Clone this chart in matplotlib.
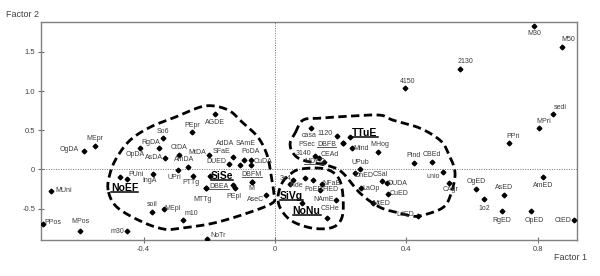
import numpy as np
import matplotlib
matplotlib.use("Agg")
import matplotlib.pyplot as plt
from matplotlib.lines import Line2D
from matplotlib.transforms import IdentityTransform

plt.rcParams['font.family'] = ['Liberation Sans', 'DejaVu Sans']

# point scores on the first two factors ('' = unlabelled point)
names = ['OgDA', 'MEpr', 'MUni', 'PPos', 'MPos', 'm30', 'soil', 'MEpl', 'm10', '',
         'PUni', 'IngA', 'RgDA', 'OpDA', 'AsDA', 'So6', 'CtDA', 'AmDA', 'UPri', 'PTTg',
         'MtDA', 'PEpr', 'AGDE', 'DUED', 'SFaE', 'AdDA', 'SAmE', 'PoDA', 'CuDA', '',
         'DBEA', 'MTTg', '', 'PEpl', 'DBFM', 'M', 'AseC', 'NoTr', '3e4', 'Inde',
         '', 'PoED', 'NFaE', 'FIED', 'NAmE', '', 'CSHe', 'casa', '1120', '',
         'DBFB', 'PSec', '3140', 'CEAd', 'MDED', 'Mind', 'MHog', 'UPub', 'DnED', 'CSal',
         'DUDA', 'CuED', 'LaOp', 'MtED', 'LdED', 'Pind', 'CBEd', 'unio', 'CAgr', 'OgED',
         '1o2', 'AsED', 'RgED', 'OpED', 'AmED', 'CtED', 'PPri', 'MPri', 'sedi', 'M50',
         'M30', '2130', '4150']
fx = [-0.580, -0.548, -0.681, -0.706, -0.593, -0.452, -0.375, -0.338, -0.279, -0.471,
      -0.451, -0.370, -0.353, -0.411, -0.334, -0.341, -0.292, -0.264, -0.295, -0.249,
      -0.201, -0.253, -0.183, -0.139, -0.127, -0.106, -0.093, -0.074, -0.074, -0.198,
      -0.210, -0.210, -0.129, -0.122, -0.071, -0.071, -0.027, -0.206, 0.056, 0.046,
      0.091, 0.117, 0.142, 0.137, 0.186, 0.081, 0.157, 0.109, 0.188, 0.228,
      0.206, 0.206, 0.122, 0.134, 0.149, 0.233, 0.312, 0.259, 0.243, 0.325,
      0.340, 0.345, 0.262, 0.297, 0.435, 0.424, 0.478, 0.510, 0.530, 0.611,
      0.636, 0.697, 0.691, 0.779, 0.816, 0.909, 0.711, 0.803, 0.847, 0.873,
      0.788, 0.564, 0.396]
fy = [0.233, 0.297, -0.268, -0.694, -0.778, -0.787, -0.541, -0.503, -0.638, -0.094,
      -0.120, -0.056, 0.268, 0.276, 0.148, 0.395, 0.191, 0.033, -0.009, -0.082,
      0.189, 0.476, 0.702, 0.064, 0.161, 0.055, 0.115, 0.115, 0.055, -0.082,
      -0.242, -0.242, -0.200, -0.230, -0.158, -0.158, -0.328, -0.880, -0.128, -0.188,
      -0.107, -0.136, -0.179, -0.264, -0.392, -0.426, -0.612, 0.523, 0.425, 0.416,
      0.332, 0.332, 0.170, 0.144, 0.093, 0.268, 0.224, 0.000, -0.051, -0.145,
      -0.168, -0.306, -0.242, -0.421, -0.589, 0.077, 0.097, -0.038, -0.171, -0.251,
      -0.379, -0.328, -0.523, -0.523, -0.102, -0.647, 0.339, 0.531, 0.705, 1.564,
      1.832, 1.283, 1.033]

# group labels
group_names = ['NoEF', 'SiSe', 'SiVg', 'NoNu', 'TTuE']
group_x = [-0.458, -0.162, 0.049, 0.096, 0.274]
group_y = [-0.235, -0.085, -0.341, -0.528, 0.459]

underlined = {'DBEA', 'DBFM', 'DBFB', 'MDED'}

# dashed outlines drawn around the groups (vertices in factor units)
outline_left_x = [-0.508, -0.502, -0.481, -0.441, -0.380, -0.304, -0.228, -0.183, -0.137, -0.100,
                  -0.052, -0.024, -0.012, -0.003, -0.009, -0.085, -0.189, -0.289, -0.335, -0.402, -0.481]
outline_left_y = [-0.264, -0.047, 0.157, 0.374, 0.540, 0.667, 0.795, 0.808, 0.744, 0.603,
                  0.412, 0.182, -0.073, -0.328, -0.430, -0.557, -0.685, -0.749, -0.762, -0.672, -0.481]
outline_ttue_x = [0.061, 0.085, 0.137, 0.228, 0.319, 0.359, 0.441, 0.502, 0.526, 0.548, 0.532,
                  0.508, 0.450, 0.420, 0.380, 0.319, 0.259, 0.207, 0.167, 0.085, 0.055, 0.046]
outline_ttue_y = [0.463, 0.629, 0.654, 0.680, 0.693, 0.629, 0.527, 0.374, 0.221, -0.047, -0.353,
                  -0.494, -0.583, -0.596, -0.557, -0.481, -0.302, -0.047, 0.042, 0.119, 0.208, 0.335]
outline_nonu_x = [0.021, 0.046, 0.076, 0.137, 0.176, 0.198, 0.207, 0.204, 0.176, 0.116, 0.052, 0.018, 0.009]
outline_nonu_y = [-0.175, -0.060, 0.004, 0.017, -0.034, -0.149, -0.353, -0.608, -0.736, -0.749, -0.659, -0.506, -0.353]

# label offsets from their points, in pixels (x right, y up)
label_offset = {
    'OgDA': (-15, 2), 'MEpr': (0, 8), 'MUni': (12, 0), 'PPos': (10, 1), 'MPos': (0, 9),
    'm30': (-9, 0), 'soil': (0, 7.5), 'MEpl': (9, 0), 'm10': (8, 6), 'PUni': (9, 4),
    'IngA': (-4, -7), 'RgDA': (-8, 6), 'OpDA': (-5, -7), 'AsDA': (-11, 0), 'So6': (0, 7),
    'CtDA': (0, 7), 'AmDA': (-4, 7), 'UPri': (-4, -7), 'PTTg': (-2, -7), 'MtDA': (-12, 2),
    'PEpr': (0, 6.5), 'AGDE': (0, -8), 'DUED': (-13, 3), 'SFaE': (-12, 5), 'AdDA': (-15, 22),
    'SAmE': (1, 17), 'PoDA': (0, 8.5), 'CuDA': (12.5, 4), 'DBEA': (13, 1.5), 'MTTg': (-3, -11.5),
    'PEpl': (-1, -8.5), 'DBFM': (0, 7), 'M': (0, -6.5), 'AseC': (-11, -4), 'NoTr': (11, 3),
    '3e4': (-8, 1), 'Inde': (6, -1.5), 'PoED': (0, -9), 'NFaE': (10, 0.5), 'FIED': (10, 0.5),
    'NAmE': (-12.5, 1), 'CSHe': (3, 9), 'casa': (-2, -7), '1120': (-12, 3), 'DBFB': (-16, -1),
    'PSec': (-36, -1), '3140': (-12, 2.7), 'CEAd': (11, 4), 'MDED': (-9, 0.5), 'Mind': (10, 0),
    'MHog': (2, 7), 'UPub': (0, 7), 'DnED': (9, -2), 'CSal': (-2, 6), 'DUDA': (11, -1),
    'CuED': (11, 0), 'LaOp': (10, 0), 'MtED': (9, -1), 'LdED': (-13, 1), 'Pind': (-1, 7.5),
    'CBEd': (0, 7.5), 'unio': (-9, -4), 'CAgr': (1, -7), 'OgED': (0.5, 8), '1o2': (0, -9),
    'AsED': (0, 8), 'RgED': (-0.5, -10), 'OpED': (3, -10), 'AmED': (0, -8), 'CtED': (-11, 0),
    'PPri': (5, 6.5), 'MPri': (5, 6), 'sedi': (7, 7), 'M50': (6, 7), 'M30': (0, -8),
    '2130': (5, 7), '4150': (3, 7),
}


def smooth_closed(xs, ys, n=20):
    # closed Catmull-Rom curve through the outline vertices
    p = np.column_stack([xs, ys])
    k = len(p)
    out = []
    t = np.linspace(0, 1, n, endpoint=False)[:, None]
    for i in range(k):
        p0, p1, p2, p3 = p[i - 1], p[i], p[(i + 1) % k], p[(i + 2) % k]
        seg = 0.5 * ((2 * p1) + (-p0 + p2) * t + (2 * p0 - 5 * p1 + 4 * p2 - p3) * t**2
                     + (-p0 + 3 * p1 - 3 * p2 + p3) * t**3)
        out.append(seg)
    out = np.vstack(out + [p[:1]])
    return out[:, 0], out[:, 1]


fig = plt.figure(figsize=(6, 2.76), dpi=100)
ax = fig.add_axes([0.068, 0.130, 0.893, 0.789])

ax.set_xlim(-0.713, 0.918)
ax.set_ylim(-0.90, 1.875)

ax.axhline(0, color='#707070', lw=0.7, ls=(0, (1, 1.5)), zorder=1)
ax.axvline(0, color='#707070', lw=0.7, ls=(0, (1, 1.5)), zorder=1)

for ox, oy in [(outline_left_x, outline_left_y), (outline_ttue_x, outline_ttue_y),
               (outline_nonu_x, outline_nonu_y)]:
    sx, sy = smooth_closed(ox, oy)
    ax.plot(sx, sy, color='black', lw=2.0, ls=(0, (3, 1.6)), zorder=2)

ax.plot(fx, fy, 'D', color='black', markersize=2.4, zorder=3)

to_underline = []
for nm, x, y in zip(names, fx, fy):
    if not nm:
        continue
    dx, dy = label_offset[nm]
    t = ax.annotate(nm, (x, y), xytext=(dx, dy), textcoords='offset pixels',
                    ha='center', va='center', fontsize=5, color='#3a3a3a', zorder=4)
    if nm in underlined:
        to_underline.append((t, 0.6))

for nm, x, y in zip(group_names, group_x, group_y):
    t = ax.text(x, y, nm, ha='center', va='center', fontsize=7.5, fontweight='bold',
                color='black', zorder=4)
    to_underline.append((t, 1.1))

ax.set_xticks([-0.4, 0, 0.4, 0.8])
ax.set_xticklabels(['-0.4', '0', '0.4', '0.8'])
ax.set_yticks([-0.5, 0, 0.5, 1.0, 1.5])
ax.set_yticklabels(['-0.5', '0', '0.5', '1.0', '1.5'])
ax.tick_params(direction='inout', length=4, width=0.8, colors='#707070',
               labelsize=5.5, labelcolor='#404040', pad=2)
for s in ax.spines.values():
    s.set_color('#808080')
    s.set_linewidth(1.0)

fig.text(0.038, 0.949, 'Factor 2', ha='center', va='center', fontsize=6.5, color='#404040')
fig.text(0.951, 0.066, 'Factor 1', ha='center', va='center', fontsize=6.5, color='#404040')

fig.canvas.draw()
renderer = fig.canvas.get_renderer()
for t, lw in to_underline:
    bb = t.get_window_extent(renderer)
    yl = bb.y0 + 1
    fig.add_artist(Line2D([bb.x0, bb.x1], [yl, yl], transform=IdentityTransform(),
                          color=t.get_color(), lw=lw, zorder=5))

fig.savefig('out.png', dpi=100)
